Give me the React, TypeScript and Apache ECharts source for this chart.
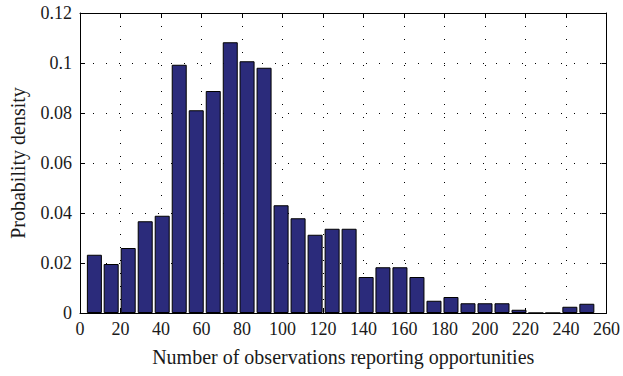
import React, { useEffect, useRef } from "react";
import * as echarts from "echarts";

// Bin centers (observations) and probability density values
const binCenters = [
  7.1, 15.4, 23.8, 32.2, 40.6, 49.0, 57.4, 65.8, 74.2, 82.5,
  90.9, 99.3, 107.7, 116.1, 124.5, 132.9, 141.3, 149.6, 158.0, 166.4,
  174.8, 183.2, 191.6, 200.0, 208.4, 216.8, 225.1, 233.5, 241.9, 250.3,
];
const density = [
  0.0233, 0.0196, 0.026, 0.0367, 0.0389, 0.0993, 0.0811, 0.0888, 0.1083, 0.1007,
  0.0981, 0.0431, 0.0379, 0.0313, 0.0337, 0.0337, 0.0144, 0.0183, 0.0183, 0.0144,
  0.0049, 0.0064, 0.0039, 0.0039, 0.0039, 0.0013, 0, 0, 0.0025, 0.0037,
];
const xTicks = { min: 0, max: 260, interval: 20 };
const yTicks = { min: 0, max: 0.12, interval: 0.02 };
const xTitle = "Number of observations reporting opportunities";
const yTitle = "Probability density";

const FONT = "Liberation Serif";
const TEXT = "#1a1a1a";

export default function App() {
  const ref = useRef<HTMLDivElement>(null);
  useEffect(() => {
    if (!ref.current) return;
    const chart = echarts.init(ref.current, undefined, { renderer: "svg" });
    const grid = { left: 79, right: 16, top: 13, bottom: 63 };
    const dotted = { type: [1, 12] as any, color: "#000", width: 1 };
    const axisLine = { show: true, onZero: false, lineStyle: { color: "#000", width: 1 } };
    const tick = { show: true, inside: true, length: 5, lineStyle: { color: "#000" } };
    chart.setOption({
      animation: false,
      backgroundColor: "#fff",
      grid,
      xAxis: [
        {
          type: "value",
          ...xTicks,
          position: "bottom",
          axisLine,
          axisTick: tick,
          axisLabel: { fontFamily: FONT, fontSize: 18, color: TEXT, margin: 7, showMaxLabel: true },
          splitLine: { show: true, lineStyle: dotted },
          name: xTitle,
          nameLocation: "middle",
          nameGap: 34,
          nameTextStyle: { fontFamily: FONT, fontSize: 20, color: TEXT },
        },
        {
          type: "value",
          ...xTicks,
          position: "top",
          axisLine,
          axisTick: tick,
          axisLabel: { show: false },
          splitLine: { show: false },
        },
      ],
      yAxis: [
        {
          type: "value",
          ...yTicks,
          position: "left",
          axisLine,
          axisTick: tick,
          axisLabel: {
            fontFamily: FONT,
            fontSize: 18,
            color: TEXT,
            margin: 8,
            formatter: (v: number) => String(+v.toFixed(2)),
          },
          splitLine: { show: true, lineStyle: dotted },
          name: yTitle,
          nameLocation: "middle",
          nameGap: 52,
          nameTextStyle: { fontFamily: FONT, fontSize: 20, color: TEXT },
        },
        {
          type: "value",
          ...yTicks,
          position: "right",
          axisLine,
          axisTick: tick,
          axisLabel: { show: false },
          splitLine: { show: false },
        },
      ],
      series: [
        {
          type: "bar",
          xAxisIndex: 0,
          yAxisIndex: 0,
          barWidth: 15,
          data: binCenters.map((c, i) => [c, density[i]]),
          itemStyle: { color: "#2b2b7b", borderColor: "#000", borderWidth: 1 },
        },
      ],
    });
    return () => chart.dispose();
  }, []);
  return (
    <div
      ref={ref}
      style={{ position: "fixed", left: 0, top: 0, width: 623, height: 376 }}
    />
  );
}
